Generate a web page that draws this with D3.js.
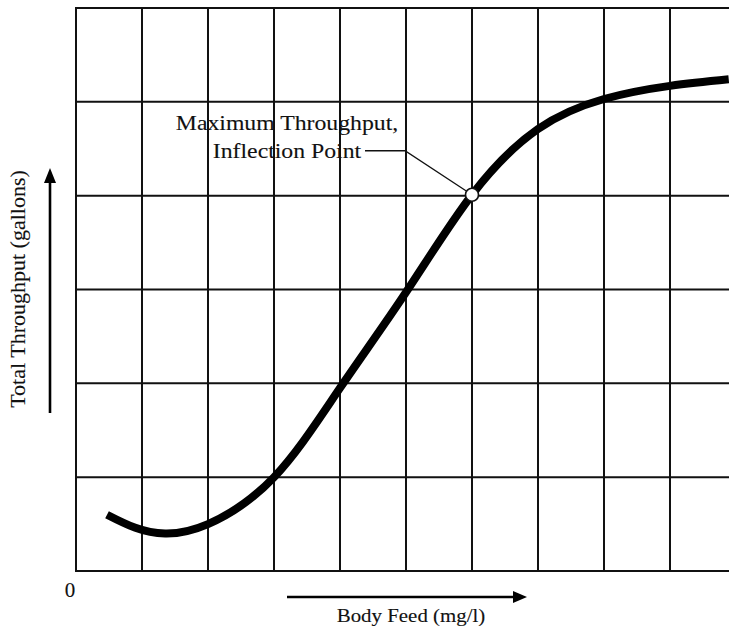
<!DOCTYPE html>
<html>
<head>
<meta charset="utf-8">
<script src="https://cdn.jsdelivr.net/npm/d3@7"></script>
<style>
  html, body { margin: 0; padding: 0; background: #fff; }
  svg { display: block; }
  text { font-family: "Liberation Serif", "Times New Roman", serif; fill: #111; stroke: #111; stroke-width: 0.12; }
</style>
</head>
<body>
<svg id="chart" width="729" height="637"></svg>
<script>
// Grid positions (body feed units along x, throughput units along y)
const feedGrid = [0, 1, 2, 3, 4, 5, 6, 7, 8, 9];
const throughputGrid = [0, 1, 2, 3, 4, 5, 6];

// Throughput curve versus body feed dosage
const bodyFeed   = [0.47, 0.9, 1.35, 2.0, 3.0, 4.0, 5.0, 6.0, 7.0, 8.0, 9.0, 9.89];
const throughput = [0.60, 0.46, 0.40, 0.50, 1.00, 1.95, 2.97, 4.01, 4.71, 5.03, 5.17, 5.24];

// Marked point on the curve
const inflectionFeed = [6.0];
const inflectionThroughput = [4.01];

const annotationLines = ["Maximum Throughput,", "Inflection Point"];
const xLabel = "Body Feed (mg/l)";
const yLabel = "Total Throughput (gallons)";
const originLabel = "0";

const svg = d3.select("#chart");

const x = d3.scaleLinear().domain([0, 9.894]).range([76, 729]);
const y = d3.scaleLinear().domain([0, 6]).range([571, 8]);

// Grid
const grid = svg.append("g").attr("stroke", "#111").attr("stroke-width", 2);
grid.selectAll("line.v").data(feedGrid).join("line")
  .attr("class", "v")
  .attr("x1", d => x(d)).attr("x2", d => x(d))
  .attr("y1", y(0) + 1).attr("y2", y(6) - 1);
grid.selectAll("line.h").data(throughputGrid).join("line")
  .attr("class", "h")
  .attr("x1", x(0) - 1).attr("x2", x(9.894))
  .attr("y1", d => y(d)).attr("y2", d => y(d));

// Curve
const pts = bodyFeed.map((f, i) => [f, throughput[i]]);
const line = d3.line()
  .x(d => x(d[0])).y(d => y(d[1]))
  .curve(d3.curveNatural);
svg.append("path")
  .datum(pts)
  .attr("d", line)
  .attr("fill", "none")
  .attr("stroke", "#000")
  .attr("stroke-width", 8)
  .attr("stroke-linecap", "butt");

// Annotation
const px = x(inflectionFeed[0]), py = y(inflectionThroughput[0]);
const elbowX = px - 67, elbowY = py - 44;
svg.append("polyline")
  .attr("points", `${elbowX - 40},${elbowY} ${elbowX},${elbowY} ${px},${py}`)
  .attr("fill", "none").attr("stroke", "#111").attr("stroke-width", 1.3);
svg.append("circle")
  .attr("cx", px).attr("cy", py).attr("r", 6.5)
  .attr("fill", "#fff").attr("stroke", "#111").attr("stroke-width", 1.6);

const ann = svg.append("g")
  .attr("transform", `translate(${px - 185},0) scale(1.08,1)`);
ann.selectAll("text").data(annotationLines).join("text")
  .attr("x", 0)
  .attr("y", (d, i) => py - 65 + i * 28)
  .attr("text-anchor", "middle")
  .attr("font-size", 22)
  .text(d => d);

// Axis arrows
function arrow(x1, y1, x2, y2) {
  svg.append("line")
    .attr("x1", x1).attr("y1", y1).attr("x2", x2).attr("y2", y2)
    .attr("stroke", "#000").attr("stroke-width", 2.6);
}
const xa = { y: 597, x1: 287, x2: 515 };
arrow(xa.x1, xa.y, xa.x2, xa.y);
svg.append("path")
  .attr("d", `M${xa.x2 - 2},${xa.y - 6} L${xa.x2 + 12},${xa.y} L${xa.x2 - 2},${xa.y + 6} Z`)
  .attr("fill", "#000");

const ya = { x: 50, y1: 413, y2: 181 };
arrow(ya.x, ya.y1, ya.x, ya.y2);
svg.append("path")
  .attr("d", `M${ya.x - 6},${ya.y2 + 2} L${ya.x},${ya.y2 - 13} L${ya.x + 6},${ya.y2 + 2} Z`)
  .attr("fill", "#000");

// Axis labels
svg.append("g")
  .attr("transform", `translate(411,622) scale(1.1,1)`)
  .append("text")
  .attr("text-anchor", "middle")
  .attr("font-size", 19)
  .text(xLabel);

svg.append("text")
  .attr("transform", `translate(25,289) rotate(-90)`)
  .attr("text-anchor", "middle")
  .attr("font-size", 22)
  .text(yLabel);

svg.append("text")
  .attr("x", x(0) - 6).attr("y", y(0) + 26)
  .attr("text-anchor", "middle")
  .attr("font-size", 21)
  .text(originLabel);
</script>
</body>
</html>
